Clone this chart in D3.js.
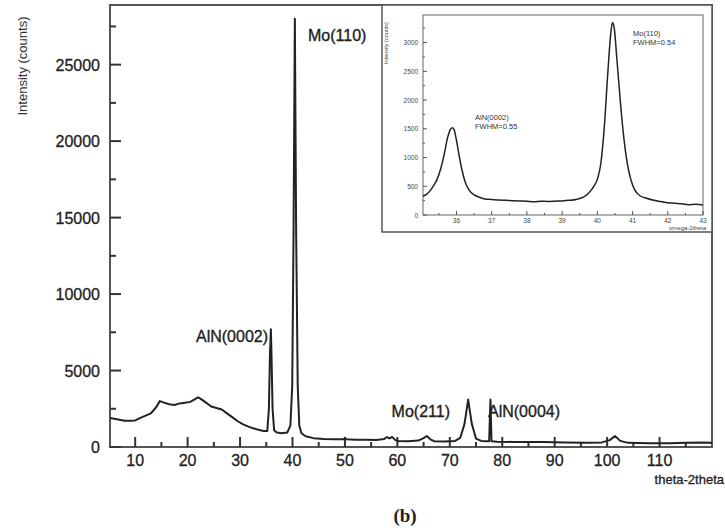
<!DOCTYPE html>
<html>
<head>
<meta charset="utf-8">
<script src="https://cdn.jsdelivr.net/npm/d3@7"></script>
<style>
  body { margin: 0; background: #fff; }
  svg { font-family: "Liberation Sans", Arial, sans-serif; }
</style>
</head>
<body>
<div id="chart"></div>
<script>
// main scan (theta-2theta)
const twoTheta = [5.2, 6, 7, 8, 9, 10, 11, 12, 13, 14, 14.7, 15.5, 16.5, 17.5, 18.5, 19.5, 20.5, 21.5, 22, 22.5,
  23.5, 24.5, 25.5, 26.5, 27.5, 28.5, 29.5, 30.5, 31.5, 32.5, 33.5, 34.5, 35.2, 35.5, 35.7, 35.88, 36.0, 36.2, 36.5,
  37, 38, 39, 39.6, 39.95, 40.2, 40.45, 40.7, 41.0, 41.3, 41.7, 42.5, 44, 46, 48, 49.8, 50, 50.3, 52, 54, 56, 57.5,
  58, 58.5, 59, 59.5, 60, 62, 64, 65, 65.6, 66.3, 67, 69, 71, 72, 72.8, 73.5, 74.2, 75, 76, 77.5, 77.75, 77.95,
  79, 82, 85, 88, 92, 96, 99, 100.5, 101.5, 102.5, 104, 108, 112, 115, 118, 120];
const counts = [1900, 1850, 1780, 1720, 1710, 1740, 1900, 2050, 2200, 2600, 3000, 2900, 2800, 2750, 2850, 2900, 2950, 3150, 3250, 3150,
  2900, 2650, 2550, 2450, 2200, 1950, 1700, 1500, 1350, 1220, 1130, 1050, 1050, 2500, 6000, 7700, 6000, 2500, 1100,
  950, 900, 950, 1400, 4000, 14000, 28000, 14000, 4000, 1400, 900, 700, 580, 520, 500, 500, 600, 500, 480, 470, 460, 520,
  650, 560, 660, 480, 400, 380, 420, 580, 720, 500, 380, 360, 400, 600, 1500, 3100, 1500, 550, 400, 380, 3100, 380,
  350, 330, 320, 330, 300, 280, 300, 450, 720, 400, 270, 250, 250, 280, 300, 280];
const xTicks = [10, 20, 30, 40, 50, 60, 70, 80, 90, 100, 110];
const yTicks = [0, 5000, 10000, 15000, 20000, 25000];

const peakNames = ["Mo(110)", "AlN(0002)", "Mo(211)", "AlN(0004)"];

// inset (omega-2theta)
const insetTheta = [35.05, 35.15, 35.25, 35.35, 35.45, 35.55, 35.65, 35.75, 35.82, 35.88, 35.93, 36.0, 36.08, 36.15,
  36.25, 36.35, 36.5, 36.65, 36.8, 37.0, 37.2, 37.4, 37.6, 37.8, 38.0, 38.2, 38.4, 38.6, 38.8, 39.0, 39.2, 39.4,
  39.6, 39.75, 39.9, 40.0, 40.1, 40.2, 40.3, 40.38, 40.43, 40.48, 40.55, 40.65, 40.75, 40.85, 40.95, 41.05, 41.2,
  41.4, 41.6, 41.8, 42.0, 42.2, 42.4, 42.6, 42.8, 43.0];
const insetCounts = [330, 360, 420, 510, 620, 800, 1050, 1350, 1480, 1520, 1490, 1300, 1020, 800,
  570, 440, 350, 310, 280, 270, 260, 255, 250, 245, 240, 232, 240, 235, 240, 245, 255, 270,
  310, 380, 500, 620, 900, 1550, 2500, 3150, 3350, 3250, 2750, 2000, 1350, 900, 620, 450, 340,
  290, 255, 235, 215, 205, 195, 180, 185, 175];
const insetXTicks = [36, 37, 38, 39, 40, 41, 42, 43];
const insetYTicks = [0, 500, 1000, 1500, 2000, 2500, 3000];

const width = 725, height = 531;
const svg = d3.select("#chart").append("svg").attr("width", width).attr("height", height);

const m = { left: 110, top: 5, right: 712, bottom: 447 };
const x = d3.scaleLinear().domain([5.2, 120]).range([m.left, m.right]);
const y = d3.scaleLinear().domain([0, 28900]).range([m.bottom, m.top]);

const ink = "#333";

// frame
svg.append("rect").attr("x", m.left).attr("y", m.top)
  .attr("width", m.right - m.left).attr("height", m.bottom - m.top)
  .attr("fill", "none").attr("stroke", "#555").attr("stroke-width", 2);

// ticks (inward)
const yMinor = d3.range(2500, 28000, 5000);
svg.append("g").selectAll("line").data(yTicks.concat(yMinor)).join("line")
  .attr("x1", m.left).attr("x2", d => m.left + (d % 5000 === 0 ? 11 : 6))
  .attr("y1", d => y(d)).attr("y2", d => y(d))
  .attr("stroke", ink).attr("stroke-width", 2);
svg.append("g").selectAll("text").data(yTicks).join("text")
  .attr("x", 100).attr("y", d => y(d) + 6)
  .attr("text-anchor", "end").attr("font-size", 16).attr("fill", "#222")
  .attr("stroke", "#222").attr("stroke-width", 0.3)
  .text(d => d);

const xMinor = d3.range(15, 120, 10);
svg.append("g").selectAll("line").data(xTicks.concat(xMinor)).join("line")
  .attr("x1", d => x(d)).attr("x2", d => x(d))
  .attr("y1", m.bottom).attr("y2", d => m.bottom - (d % 10 === 0 ? 10 : 5))
  .attr("stroke", ink).attr("stroke-width", 2);
svg.append("g").selectAll("text").data(xTicks).join("text")
  .attr("x", d => x(d)).attr("y", 466)
  .attr("text-anchor", "middle").attr("font-size", 16).attr("fill", "#222")
  .attr("stroke", "#222").attr("stroke-width", 0.3)
  .text(d => d);

svg.append("text").attr("transform", "translate(27,66) rotate(-90)")
  .attr("text-anchor", "middle").attr("font-size", 13).attr("fill", "#333")
  .text("Intensity (counts)");
svg.append("text").attr("x", 724).attr("y", 484).attr("text-anchor", "end")
  .attr("font-size", 13).attr("fill", "#222").attr("stroke", "#222").attr("stroke-width", 0.3)
  .text("theta-2theta");
svg.append("text").attr("x", 405).attr("y", 522).attr("text-anchor", "middle")
  .attr("font-family", "Liberation Serif, serif").attr("font-weight", "bold")
  .attr("font-size", 19).attr("fill", "#222").text("(b)");

// curve
const line = d3.line().x((d, i) => x(twoTheta[i])).y(d => y(d));
svg.append("path").datum(counts).attr("d", line)
  .attr("fill", "none").attr("stroke", "#222").attr("stroke-width", 2).attr("stroke-linejoin", "round");

// peak labels
const labelPos = [[308, 41, "start"], [268, 342, "end"], [450, 417, "end"], [488, 417, "start"]];
svg.append("g").selectAll("text").data(peakNames).join("text")
  .attr("x", (d, i) => labelPos[i][0]).attr("y", (d, i) => labelPos[i][1])
  .attr("text-anchor", (d, i) => labelPos[i][2])
  .attr("font-size", 16).attr("fill", "#222").attr("stroke", "#222").attr("stroke-width", 0.35)
  .text(d => d);

// ---- inset ----
const ib = { left: 382, top: 5, right: 712, bottom: 232 };
svg.append("rect").attr("x", ib.left).attr("y", ib.top)
  .attr("width", ib.right - ib.left).attr("height", ib.bottom - ib.top)
  .attr("fill", "#fff").attr("stroke", "#555").attr("stroke-width", 1.5);

const im = { left: 423, top: 15, right: 703, bottom: 215 };
const ix = d3.scaleLinear().domain([35.05, 43]).range([im.left, im.right]);
const iy = d3.scaleLinear().domain([0, 3480]).range([im.bottom, im.top]);

svg.append("rect").attr("x", im.left).attr("y", im.top)
  .attr("width", im.right - im.left).attr("height", im.bottom - im.top)
  .attr("fill", "none").attr("stroke", "#666").attr("stroke-width", 1);

const iyMinor = d3.range(250, 3480, 500);
svg.append("g").selectAll("line").data(insetYTicks.concat(iyMinor)).join("line")
  .attr("x1", im.left).attr("x2", d => im.left + (d % 500 === 0 ? 4 : 2))
  .attr("y1", d => iy(d)).attr("y2", d => iy(d))
  .attr("stroke", "#555").attr("stroke-width", 1);
svg.append("g").selectAll("text").data(insetYTicks).join("text")
  .attr("x", im.left - 5).attr("y", d => iy(d) + 2.5)
  .attr("text-anchor", "end").attr("font-size", 6.5).attr("fill", "#444")
  .text(d => d);

const ixMinor = d3.range(35.5, 43, 1);
svg.append("g").selectAll("line").data(insetXTicks.concat(ixMinor)).join("line")
  .attr("x1", d => ix(d)).attr("x2", d => ix(d))
  .attr("y1", im.bottom).attr("y2", d => im.bottom - (Number.isInteger(d) ? 4 : 2))
  .attr("stroke", "#555").attr("stroke-width", 1);
svg.append("g").selectAll("text").data(insetXTicks).join("text")
  .attr("x", d => ix(d)).attr("y", im.bottom + 8)
  .attr("text-anchor", "middle").attr("font-size", 6.5).attr("fill", "#444")
  .text(d => d);

svg.append("text").attr("transform", "translate(388,43) rotate(-90)")
  .attr("text-anchor", "middle").attr("font-size", 5.5).attr("fill", "#444")
  .text("Intensity (counts)");
svg.append("text").attr("x", im.right + 3).attr("y", 230).attr("text-anchor", "end")
  .attr("font-size", 6).attr("fill", "#444").text("omega-2theta");

const iline = d3.line().x((d, i) => ix(insetTheta[i])).y(d => iy(d)).curve(d3.curveMonotoneX);
svg.append("path").datum(insetCounts).attr("d", iline)
  .attr("fill", "none").attr("stroke", "#222").attr("stroke-width", 1.5);

const insetNotes = [["AlN(0002)", "FWHM=0.55", 475, 120], ["Mo(110)", "FWHM=0.54", 633, 36]];
insetNotes.forEach(n => {
  const t = svg.append("text").attr("x", n[2]).attr("y", n[3]).attr("font-size", 7.5).attr("fill", "#333");
  t.append("tspan").attr("x", n[2]).text(n[0]);
  t.append("tspan").attr("x", n[2]).attr("dy", 9).text(n[1]);
});
</script>
</body>
</html>
